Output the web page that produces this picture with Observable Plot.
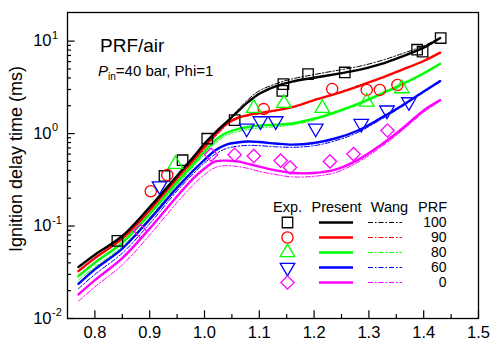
<!DOCTYPE html>
<html><head><meta charset="utf-8">
<script src="https://cdn.jsdelivr.net/npm/d3@7"></script>
<script src="https://cdn.jsdelivr.net/npm/@observablehq/plot@0.6"></script>
<style>
html,body{margin:0;padding:0;background:#fff;}
#wrap{position:relative;width:500px;height:351px;font-family:"Liberation Sans",Arial,sans-serif;color:#000;overflow:hidden;}
#wrap svg{position:absolute;left:0;top:0;}
.t1{position:absolute;left:100px;top:36px;font-size:19px;line-height:1;white-space:nowrap;}
.t2{position:absolute;left:98px;top:63px;font-size:15px;line-height:1;white-space:nowrap;}
.t2 sub{font-size:10px;line-height:0;vertical-align:-4px;}
.ylab{position:absolute;left:15.5px;top:159px;width:260px;text-align:center;font-size:18px;line-height:1;white-space:nowrap;transform:translate(-50%,-50%) rotate(-90deg);}
</style></head><body>
<div id="wrap"></div>
<script>
// ---- data ----
const xGrid = [0.77, 0.80, 0.85, 0.90, 0.95, 0.98, 1.00, 1.02, 1.04, 1.06, 1.08, 1.10, 1.13, 1.16, 1.20, 1.24, 1.28, 1.32, 1.36, 1.40, 1.43];

const present100 = [0.036, 0.049, 0.078, 0.16, 0.35, 0.56, 0.78, 1.03, 1.33, 1.72, 2.2, 2.7, 3.25, 3.65, 4.02, 4.4, 4.85, 5.6, 6.8, 8.5, 10.8];
const present90  = [0.0325, 0.045, 0.073, 0.148, 0.33, 0.52, 0.72, 0.98, 1.28, 1.48, 1.59, 1.67, 1.78, 1.93, 2.3, 2.7, 3.25, 3.95, 4.9, 6.1, 7.5];
const present80  = [0.0287, 0.040, 0.066, 0.135, 0.30, 0.47, 0.64, 0.85, 1.02, 1.12, 1.18, 1.22, 1.25, 1.29, 1.45, 1.72, 2.1, 2.65, 3.4, 4.5, 5.7];
const present60  = [0.0237, 0.034, 0.057, 0.118, 0.26, 0.40, 0.52, 0.66, 0.76, 0.80, 0.82, 0.81, 0.78, 0.76, 0.79, 0.89, 1.08, 1.45, 2.0, 2.85, 3.7];
const present0   = [0.0182, 0.026, 0.045, 0.094, 0.21, 0.33, 0.42, 0.50, 0.51, 0.50, 0.47, 0.44, 0.40, 0.375, 0.375, 0.41, 0.52, 0.74, 1.12, 1.78, 2.3];

const wang100 = [0.033, 0.045, 0.073, 0.15, 0.33, 0.53, 0.74, 0.99, 1.32, 1.78, 2.35, 2.9, 3.45, 3.9, 4.35, 4.8, 5.3, 6.1, 7.3, 8.9, 10.9];
const wang90  = [0.0295, 0.041, 0.067, 0.137, 0.31, 0.49, 0.68, 0.93, 1.22, 1.44, 1.56, 1.64, 1.76, 1.92, 2.28, 2.7, 3.25, 3.95, 4.9, 6.1, 7.4];
const wang80  = [0.026, 0.036, 0.060, 0.123, 0.28, 0.44, 0.60, 0.79, 0.96, 1.05, 1.11, 1.15, 1.19, 1.24, 1.40, 1.67, 2.05, 2.6, 3.35, 4.4, 5.6];
const wang60  = [0.021, 0.030, 0.051, 0.106, 0.24, 0.37, 0.48, 0.60, 0.69, 0.73, 0.745, 0.74, 0.72, 0.71, 0.74, 0.84, 1.03, 1.4, 1.95, 2.8, 3.6];
const wang0   = [0.0154, 0.022, 0.038, 0.080, 0.18, 0.28, 0.36, 0.43, 0.45, 0.44, 0.42, 0.39, 0.36, 0.34, 0.345, 0.38, 0.49, 0.70, 1.07, 1.7, 2.25];

const exp100 = [[0.841,0.069],[0.927,0.348],[0.960,0.515],[1.005,0.88],[1.055,1.40],[1.142,2.9],[1.144,3.43],[1.189,4.4],[1.256,4.58],[1.388,8.07],[1.398,7.68],[1.431,10.8]];
const exp90  = [[0.902,0.238],[0.932,0.357],[1.108,1.84],[1.233,3.03],[1.296,2.97],[1.320,2.97],[1.352,3.35]];
const exp80  = [[0.947,0.466],[1.090,1.88],[1.145,2.13],[1.215,1.88],[1.296,2.2],[1.360,3.07]];
const exp60  = [[0.918,0.271],[1.077,1.14],[1.102,1.37],[1.130,1.37],[1.203,1.14],[1.286,1.28],[1.333,1.79],[1.373,2.2]];
const exp0   = [[0.883,0.088],[1.012,0.59],[1.055,0.59],[1.090,0.573],[1.139,0.51],[1.156,0.43],[1.229,0.50],[1.272,0.60],[1.334,1.08]];

const prfLabels = ["100", "90", "80", "60", "0"];
const colors = ["#000000", "#ff0000", "#00ff00", "#0000ff", "#ff00ff"];
const xMajor = [0.8, 0.9, 1.0, 1.1, 1.2, 1.3, 1.4, 1.5];
const xMinor = [0.85, 0.95, 1.05, 1.15, 1.25, 1.35, 1.45];
const yMajor = [0.01, 0.1, 1, 10];
const yExp = ["-2", "-1", "0", "1"];
const yMinor = [0.02,0.03,0.04,0.05,0.06,0.07,0.08,0.09,0.2,0.3,0.4,0.5,0.6,0.7,0.8,0.9,2,3,4,5,6,7,8,9];
const legendCols = ["Exp.", "Present", "Wang", "PRF"];
const yLabel = "Ignition delay time (ms)";
const title = "PRF/air";

// ---- symbols ----
const triangleDown = {
  draw(context, size) {
    const y = -Math.sqrt(size / (Math.sqrt(3) * 3));
    context.moveTo(0, -y * 2);
    context.lineTo(-Math.sqrt(3) * y, y);
    context.lineTo(Math.sqrt(3) * y, y);
    context.closePath();
  }
};
const symbols = ["square", "circle", "triangle", triangleDown, "diamond2"];
const radii = [5.9, 5.6, 5.4, 5.4, 6.0];

const presents = [present100, present90, present80, present60, present0];
const wangs = [wang100, wang90, wang80, wang60, wang0];
const exps = [exp100, exp90, exp80, exp60, exp0];

const series = prfLabels.map((prf, i) => ({
  prf, color: colors[i], symbol: symbols[i], r: radii[i],
  present: xGrid.map((x, j) => ({x, y: presents[i][j]})),
  wang: xGrid.map((x, j) => ({x, y: wangs[i][j]})),
  exp: exps[i].map(([x, y]) => ({x, y}))
}));

const dashDot = "5,2,1.5,2";
const font = "'Liberation Sans', Arial, sans-serif";

const marks = [];
for (const s of series) {
  marks.push(Plot.line(s.wang, {x: "x", y: "y", stroke: s.color, strokeWidth: 1, strokeDasharray: dashDot, curve: "catmull-rom"}));
}
for (const s of series.slice().reverse()) {
  marks.push(Plot.line(s.present, {x: "x", y: "y", stroke: s.color, strokeWidth: 2.4, curve: "catmull-rom"}));
}
for (const s of series) {
  marks.push(Plot.dot(s.exp, {x: "x", y: "y", symbol: s.symbol, r: s.r, stroke: s.color, strokeWidth: 1.3, fill: "none"}));
}
marks.push(
  Plot.frame({stroke: "black", strokeWidth: 1.3}),
  Plot.axisX(xMajor, {tickSize: -7.7, tickFormat: () => "", label: null, strokeWidth: 1.2}),
  Plot.axisX(xMinor, {tickSize: -4, tickFormat: () => "", label: null, strokeWidth: 1.2}),
  Plot.axisX(xMajor, {tickSize: 0, tickPadding: 8, tickFormat: d3.format(".1f"), fontSize: 16.5, label: null}),
  Plot.axisY(yMajor, {tickSize: -7.7, tickFormat: () => "", label: null, strokeWidth: 1.2}),
  Plot.axisY(yMinor, {tickSize: -4, tickFormat: () => "", label: null, strokeWidth: 1.2}),
  Plot.text(yMajor, {y: d => d, text: () => "10", frameAnchor: "left", textAnchor: "end", dx: -16, fontSize: 16.5}),
  Plot.text(yMajor, {y: d => d, text: (d, i) => yExp[i], frameAnchor: "left", textAnchor: "start", dx: -15.5, dy: -6, fontSize: 11})
);

const main = Plot.plot({
  width: 500, height: 351,
  marginLeft: 67, marginRight: 22, marginTop: 12, marginBottom: 33,
  style: {fontFamily: font, fontSize: "16px", color: "black", background: "transparent"},
  x: {domain: [0.75, 1.5]},
  y: {type: "log", domain: [0.01, 20.4]},
  marks
});

// ---- legend (separate Plot overlay with band/point scales) ----
const legendRows = ["hdr", ...prfLabels];
const headerDx = [0, 0, 4, -2];
const legendMarks = legendCols.map((c, i) =>
  Plot.text([c], {x: d => d, y: () => "hdr", text: d => d, fontSize: 14.5, dx: headerDx[i]})
);
for (const s of series) {
  legendMarks.push(
    Plot.dot([s], {x: () => "Exp.", y: () => s.prf, symbol: s.symbol, r: s.r, stroke: s.color, strokeWidth: 1.3, fill: "none"}),
    Plot.tickY([s], {x: () => "Present", y: () => s.prf, stroke: s.color, strokeWidth: 2.4}),
    Plot.tickY([s], {x: () => "Wang", y: () => s.prf, stroke: s.color, strokeWidth: 1, strokeDasharray: dashDot})
  );
}
legendMarks.push(Plot.text(series, {x: () => "PRF", y: d => d.prf, text: d => d.prf, textAnchor: "end", dx: 12, fontSize: 14}));

const legend = Plot.plot({
  width: 500, height: 351, margin: 0,
  style: {fontFamily: font, color: "black", background: "transparent", pointerEvents: "none"},
  x: {type: "band", domain: legendCols, range: [255.15, 465.85], padding: 0.3, axis: null},
  y: {type: "point", domain: legendRows, range: [197.7, 290.3], axis: null},
  marks: legendMarks
});

const wrap = document.getElementById("wrap");
wrap.appendChild(main);
wrap.appendChild(legend);
const t1 = document.createElement("div");
t1.className = "t1"; t1.textContent = title;
const t2 = document.createElement("div");
t2.className = "t2";
t2.innerHTML = "<i>P</i><sub>in</sub>=40 bar, Phi=1";
const yl = document.createElement("div");
yl.className = "ylab"; yl.textContent = yLabel;
wrap.appendChild(t1); wrap.appendChild(t2); wrap.appendChild(yl);
</script>
</body></html>
